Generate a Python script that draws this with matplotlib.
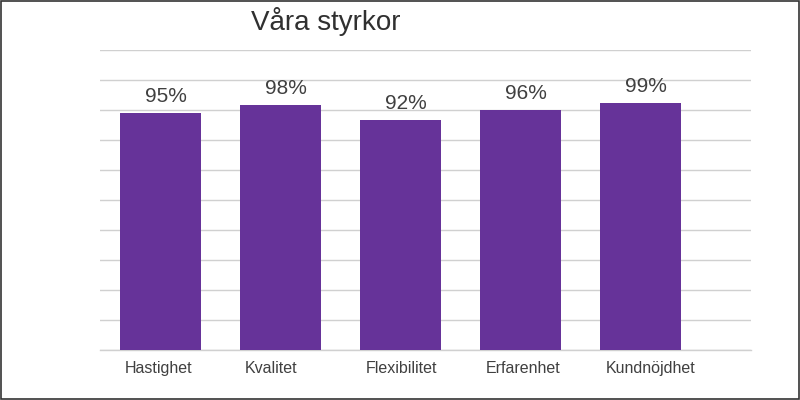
import matplotlib
matplotlib.use("Agg")
import matplotlib.pyplot as plt
from matplotlib.patches import Rectangle
import numpy as np

categories = ["Hastighet", "Kvalitet", "Flexibilitet", "Erfarenhet", "Kundnöjdhet"]
values = [0.95, 0.98, 0.92, 0.96, 0.99]
labels = ["95%", "98%", "92%", "96%", "99%"]
title = "Våra styrkor"

plt.rcParams['font.family'] = ['Liberation Sans', 'DejaVu Sans']

fig = plt.figure(figsize=(8, 4), dpi=100)
ax = fig.add_axes([0.125, 0.125, 0.814, 0.75])

x = np.arange(len(categories))
width = 0.675
ax.bar(x, values, width=width, color="#663399", zorder=3)

ax.set_ylim(0, 1.2)
ax.set_xlim(-0.5, 4.92)
ax.set_yticks(np.linspace(0, 1.2, 11))
ax.yaxis.grid(True, color="#d0d0d0", linewidth=1, zorder=0)
ax.axhline(0, color="#d0d0d0", linewidth=1, zorder=1, clip_on=False)
ax.tick_params(axis='y', length=0, labelleft=False)
ax.set_xticks([])
for s in ax.spines.values():
    s.set_visible(False)

for xi, v, lab in zip(x, values, labels):
    ax.annotate(lab, (xi, v), xytext=(4, 5), textcoords="offset points",
                ha="center", va="bottom", fontsize=15, color="#404040")

for xi, cat in zip(x, categories):
    ax.annotate(cat, (xi - width / 2, 0), xytext=(4, -8), textcoords="offset points",
                ha="left", va="top", fontsize=11.5, color="#404040")

fig.text(0.314, 0.925, title, ha="left", va="baseline", fontsize=20, color="#303030")

fig.patches.append(Rectangle((0.0008, 0.0015), 0.9985, 0.997, transform=fig.transFigure,
                             fill=False, edgecolor="#333333", linewidth=1.2))

fig.savefig("out.png", dpi=100)
